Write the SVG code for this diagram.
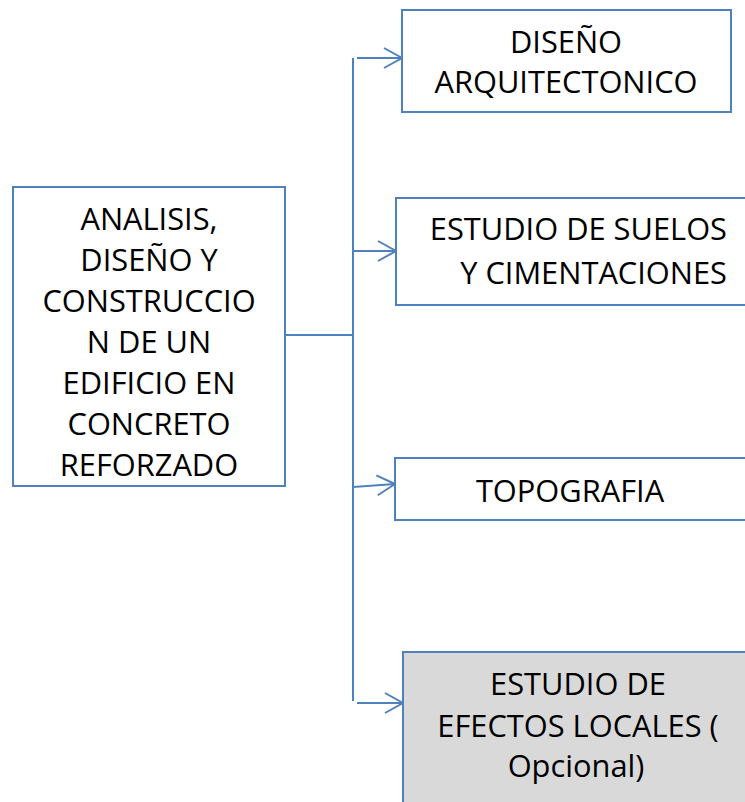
<svg xmlns="http://www.w3.org/2000/svg" width="745" height="802" viewBox="0 0 745 802">
<style>
.box{fill:#ffffff;stroke:#4f81bd;stroke-width:2}
.gray{fill:#d9d9d9;stroke:#4f81bd;stroke-width:2}
.t{font-family:"Open Sans","Noto Sans","Liberation Sans",sans-serif;font-size:30.8px;fill:#000;text-anchor:middle}
.c{fill:none;stroke:#4f81bd;stroke-width:2}
</style>
<defs>
<marker id="arr" markerUnits="userSpaceOnUse" markerWidth="22" markerHeight="24" refX="19" refY="11" orient="auto">
<path d="M1,1 L19,11 L1,21" fill="none" stroke="#4f81bd" stroke-width="2"/>
</marker>
</defs>
<rect width="745" height="802" fill="#ffffff"/>
<g id="connectors">
<line class="c" x1="285" y1="335" x2="353" y2="335"/>
<line class="c" x1="353" y1="58" x2="353" y2="701"/>
<line class="c" x1="357" y1="58" x2="402" y2="58" marker-end="url(#arr)"/>
<line class="c" x1="353" y1="251" x2="396" y2="251" marker-end="url(#arr)"/>
<line class="c" x1="353" y1="487" x2="395" y2="484" marker-end="url(#arr)"/>
<line class="c" x1="357" y1="703" x2="403" y2="703" marker-end="url(#arr)"/>
</g>
<g id="main">
<rect class="box" x="13" y="187" width="272" height="299"/>
<text class="t" x="149" y="230">ANALISIS,</text>
<text class="t" x="149" y="271">DISEÑO Y</text>
<text class="t" x="149" y="312">CONSTRUCCIO</text>
<text class="t" x="149" y="353">N DE UN</text>
<text class="t" x="149" y="394">EDIFICIO EN</text>
<text class="t" x="149" y="435">CONCRETO</text>
<text class="t" x="149" y="476">REFORZADO</text>
</g>
<g id="diseno">
<rect class="box" x="402" y="10" width="329" height="102"/>
<text class="t" x="566" y="53">DISEÑO</text>
<text class="t" x="566" y="93">ARQUITECTONICO</text>
</g>
<g id="suelos">
<rect class="box" x="396" y="198" width="360" height="107"/>
<text class="t" x="727" y="240" style="text-anchor:end">ESTUDIO DE SUELOS</text>
<text class="t" x="727" y="284" style="text-anchor:end">Y CIMENTACIONES</text>
</g>
<g id="topografia">
<rect class="box" x="395" y="458" width="360" height="62"/>
<text class="t" x="570" y="502">TOPOGRAFIA</text>
</g>
<g id="efectos">
<rect class="gray" x="403" y="652" width="360" height="160"/>
<text class="t" x="578" y="695">ESTUDIO DE</text>
<text class="t" x="578" y="737">EFECTOS LOCALES (</text>
<text class="t" x="576" y="777">Opcional)</text>
</g>
</svg>
